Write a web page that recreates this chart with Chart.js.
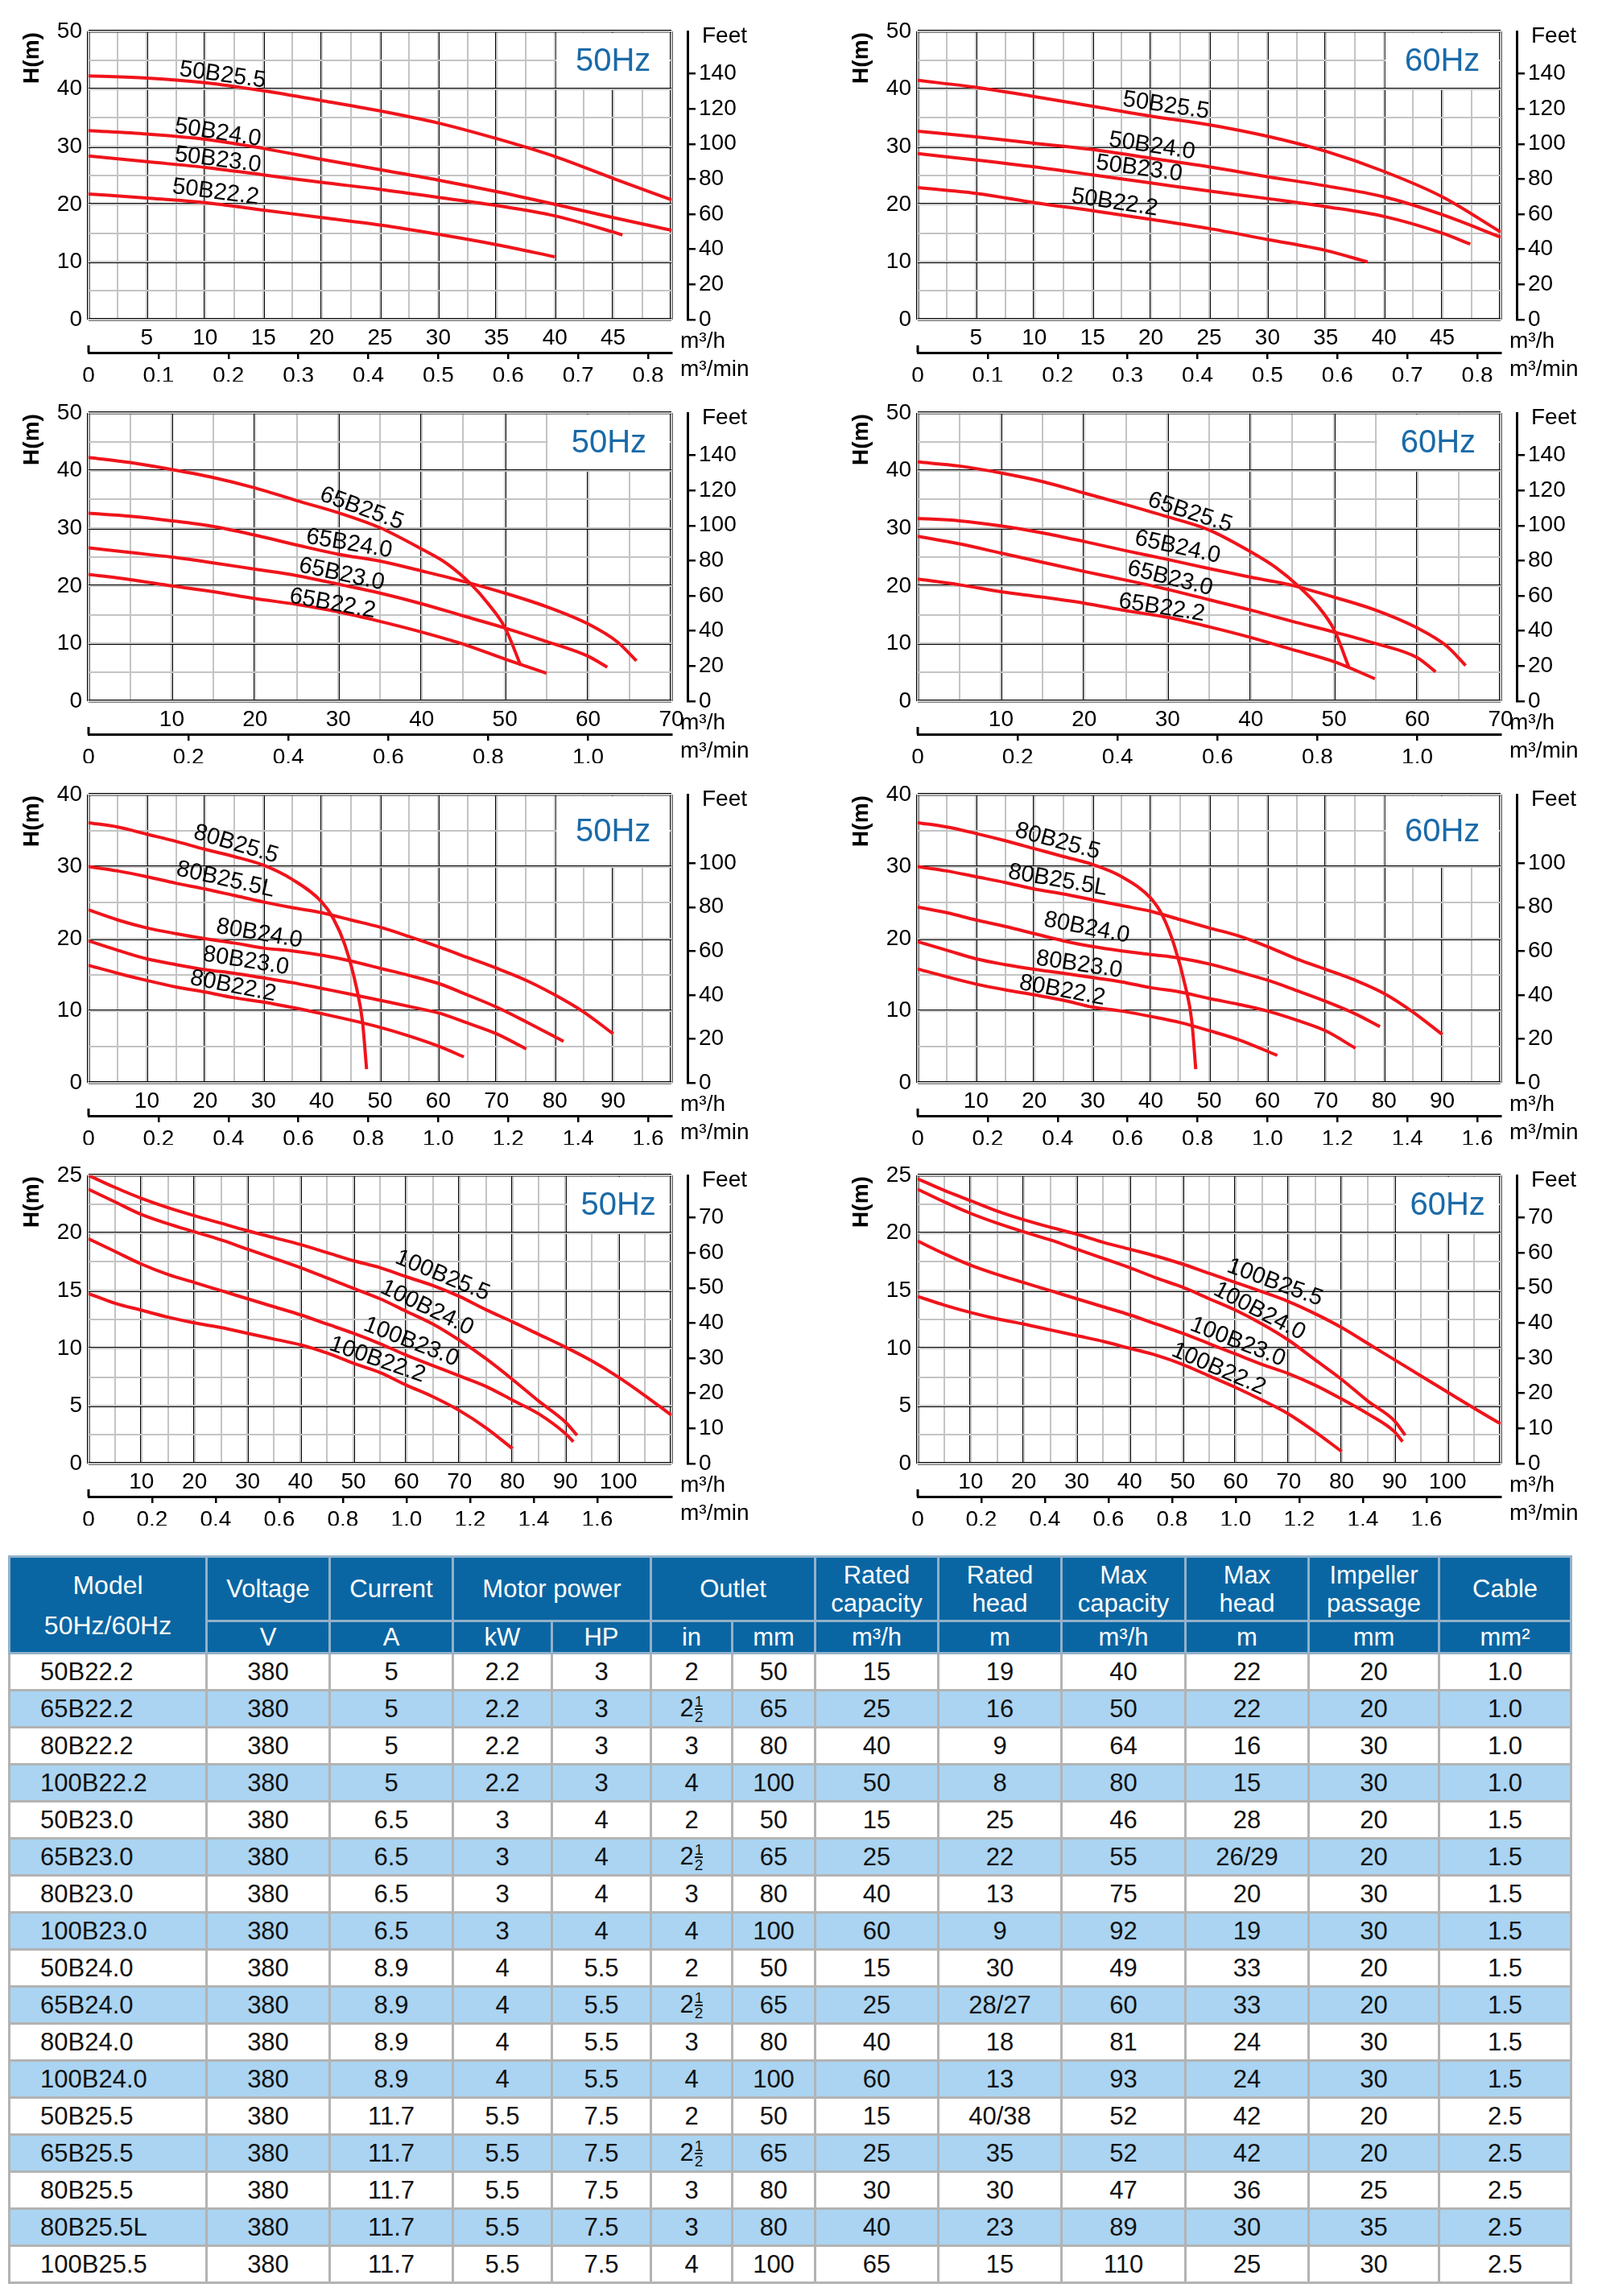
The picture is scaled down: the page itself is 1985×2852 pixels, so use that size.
<!DOCTYPE html>
<html>
<head>
<meta charset="utf-8">
<script src="https://cdn.jsdelivr.net/npm/chart.js@4.4.0/dist/chart.umd.min.js"></script>
<style>
  body { margin: 0; background: #fff; width: 1985px; height: 2852px; position: relative; overflow: hidden;
         font-family: 'Liberation Sans', Arial, sans-serif; }
  canvas { position: absolute; }
  #tbl { position: absolute; left: 10px; top: 1932px; width: 1940px; border-collapse: collapse; table-layout: fixed; }
  #tbl th, #tbl td { border: 3px solid #b3b3b3; text-align: center; padding: 0; font-weight: normal; white-space: nowrap; }
  #tbl thead th { background: #0a66a3; color: #fff; border-color: #93b1c9; font-size: 31px; line-height: 35px; }
  #tbl thead th.mdl { font-size: 32px; line-height: 50px; }
  #tbl tbody tr { height: 46px; }
  #tbl tbody td { font-size: 31px; color: #111; }
  #tbl tbody td.m { text-align: left; padding-left: 37px; }
  #tbl tbody tr:nth-child(even) td { background: #aad4f2; }
  .st { display: inline-block; vertical-align: middle; font-size: 19px; line-height: 17px; margin-left: 1px; }
  .st span { display: block; }
  .st span:first-child { border-bottom: 2px solid #111; }
</style>
</head>
<body>
<table id="tbl">
  <colgroup>
    <col style="width:245px"><col style="width:153px"><col style="width:153px"><col style="width:123px"><col style="width:123px">
    <col style="width:101px"><col style="width:103px"><col style="width:153px"><col style="width:153px"><col style="width:154px">
    <col style="width:153px"><col style="width:162px"><col style="width:164px">
  </colgroup>
  <thead>
    <tr style="height:80px">
      <th rowspan="2" class="mdl">Model<br>50Hz/60Hz</th><th>Voltage</th><th>Current</th><th colspan="2">Motor power</th>
      <th colspan="2">Outlet</th><th>Rated<br>capacity</th><th>Rated<br>head</th><th>Max<br>capacity</th><th>Max<br>head</th>
      <th>Impeller<br>passage</th><th>Cable</th>
    </tr>
    <tr style="height:40px">
      <th>V</th><th>A</th><th>kW</th><th>HP</th><th>in</th><th>mm</th><th>m³/h</th><th>m</th><th>m³/h</th><th>m</th><th>mm</th><th>mm²</th>
    </tr>
  </thead>
  <tbody id="rows"></tbody>
</table>
<script>
// ---- curves: [flow m³/h, head m] ----

// 50B, 50Hz
const a50B25_5 = [[0,42.3],[5,41.9],[10,41.1],[15,39.7],[20,38.0],[25,36.2],[30,34.1],[35,31.4],[40,28.3],[45,24.5],[50,20.8]];
const a50B24_0 = [[0,32.8],[5,32.2],[10,31.3],[15,29.7],[20,27.8],[25,26.0],[30,24.2],[35,22.2],[40,20.0],[45,17.7],[50,15.5]];
const a50B23_0 = [[0,28.4],[5,27.4],[10,26.4],[15,25.1],[20,23.8],[25,22.6],[30,21.2],[35,19.8],[40,18.0],[45,15.2],[45.8,14.7]];
const a50B22_2 = [[0,21.8],[5,21.1],[10,20.3],[15,19.0],[20,17.7],[25,16.4],[30,14.8],[35,13.0],[40,10.9]];

// 50B, 60Hz
const b50B25_5 = [[0,41.5],[5,40.3],[10,38.7],[15,37.0],[20,35.3],[25,33.8],[30,31.8],[35,29.2],[40,25.7],[45,21.3],[50,15.2]];
const b50B24_0 = [[0,32.7],[5,31.7],[10,30.6],[15,29.5],[20,28.0],[25,26.5],[30,24.8],[35,23.2],[40,21.3],[45,18.2],[50,14.3]];
const b50B23_0 = [[0,28.8],[5,27.7],[10,26.5],[15,25.1],[20,23.7],[25,22.3],[30,21.0],[35,19.6],[40,17.9],[45,15.0],[47.4,13.1]];
const b50B22_2 = [[0,22.9],[5,21.9],[10,20.3],[15,18.9],[20,17.4],[25,15.8],[30,13.9],[35,12.0],[38.6,10.0]];

// 65B, 50Hz
const a65B25_5 = [[0,42.3],[5,41.4],[10,40.2],[15,38.8],[20,37.0],[25,34.8],[30,32.7],[35,30.1],[40,26.4],[43,23.9],[46,20.2],[48,16.9],[50,12.8],[51.9,6.2]];
const a65B24_0 = [[0,32.6],[5,32.1],[10,31.3],[15,30.3],[20,28.8],[25,27.1],[30,25.5],[35,24.3],[40,22.6],[45,20.8],[50,18.75],[55,16.4],[60,13.4],[63.5,10.3],[65.8,7.0]];
const a65B23_0 = [[0,26.6],[5,25.8],[10,25.0],[15,24.0],[20,22.9],[25,21.8],[30,20.3],[35,18.75],[40,16.9],[45,14.8],[50,12.7],[55,10.35],[60,7.8],[62.3,5.9]];
const a65B22_2 = [[0,22.0],[5,21.1],[10,20.0],[15,19.0],[20,17.8],[25,16.8],[30,15.5],[35,13.85],[40,12.0],[45,9.9],[50,7.3],[55,4.85]];

// 65B, 60Hz
const b65B25_5 = [[0,41.5],[5,40.8],[10,39.6],[15,38.1],[20,36.1],[25,34.1],[30,32.0],[35,29.7],[40,25.9],[43,23.2],[46,19.6],[48,16.6],[50,12.4],[51.8,5.8]];
const b65B24_0 = [[0,31.7],[5,31.3],[10,30.4],[15,29.2],[20,27.7],[25,26.1],[30,24.6],[35,23.0],[40,21.5],[45,20.1],[50,18.05],[55,15.8],[60,12.7],[63.5,9.6],[65.8,6.2]];
const b65B23_0 = [[0,28.6],[5,27.3],[10,25.7],[15,24.1],[20,22.5],[25,21.0],[30,19.4],[35,17.6],[40,15.8],[45,13.85],[50,12.0],[55,10.0],[60,7.55],[62.2,5.1]];
const b65B22_2 = [[0,21.2],[5,20.2],[10,19.0],[15,18.05],[20,17.0],[25,15.7],[30,14.55],[35,12.9],[40,11.05],[45,8.95],[50,6.86],[54.9,3.9]];

// 80B, 50Hz
const a80B25_5 = [[0,36.1],[5,35.5],[10,34.5],[15,33.5],[20,32.4],[25,31.4],[30,30.2],[35,28.2],[40,25.1],[42,22.8],[44,19.1],[46,13.1],[47,8.5],[47.7,1.9]];
const a80B25_5L = [[0,30.0],[5,29.4],[10,28.6],[15,27.7],[20,26.9],[25,26.0],[30,25.1],[35,24.3],[40,23.6],[45,22.6],[50,21.6],[55,20.3],[60,18.9],[65,17.4],[70,15.9],[75,14.25],[80,12.2],[85,9.8],[90,6.8]];
const a80B24_0 = [[0,24.0],[5,22.6],[10,21.5],[15,20.7],[20,20.0],[25,19.4],[30,18.7],[35,18.3],[40,17.7],[45,16.9],[50,15.9],[55,14.9],[60,13.8],[65,12.2],[70,10.5],[75,8.5],[81.5,5.75]];
const a80B23_0 = [[0,19.7],[5,18.4],[10,17.2],[15,16.4],[20,15.7],[25,15.2],[30,14.55],[35,13.9],[40,13.1],[45,12.3],[50,11.45],[55,10.6],[60,9.7],[65,8.3],[70,6.8],[75.1,4.7]];
const a80B22_2 = [[0,16.3],[5,15.2],[10,14.2],[15,13.3],[20,12.6],[25,11.8],[30,11.2],[35,10.45],[40,9.6],[45,8.7],[50,7.7],[55,6.5],[60,5.1],[64.4,3.6]];

// 80B, 60Hz
const b80B25_5 = [[0,36.1],[5,35.5],[10,34.6],[15,33.6],[20,32.5],[25,31.4],[30,30.3],[35,28.6],[40,25.6],[42,23.2],[44,19.1],[46,13.1],[47,8.7],[47.7,1.9]];
const b80B25_5L = [[0,30.0],[5,29.4],[10,28.6],[15,27.8],[20,26.9],[25,26.2],[30,25.4],[35,24.6],[40,23.8],[45,22.65],[50,21.5],[55,20.4],[60,18.9],[65,17.2],[70,15.75],[75,14.25],[80,12.4],[85,9.8],[90,6.7]];
const b80B24_0 = [[0,24.4],[5,23.6],[10,22.6],[15,21.7],[20,20.7],[25,19.7],[30,18.9],[35,18.3],[40,17.8],[45,17.3],[50,16.5],[55,15.4],[60,14.25],[65,12.8],[70,11.3],[75,9.6],[79.3,7.8]];
const b80B23_0 = [[0,19.6],[5,18.4],[10,17.2],[15,16.4],[20,15.75],[25,15.2],[30,14.6],[35,14.0],[40,13.2],[45,12.6],[50,11.7],[55,10.9],[60,9.96],[65,8.7],[70,7.2],[75.1,4.8]];
const b80B22_2 = [[0,15.8],[5,14.7],[10,13.7],[15,12.9],[20,12.2],[25,11.45],[30,10.5],[35,9.96],[40,9.2],[45,8.36],[50,7.24],[55,6.0],[61.7,3.8]];

// 100B, 50Hz
const a100B25_5 = [[0,25.0],[5,23.95],[10,23.0],[15,22.2],[20,21.5],[25,20.85],[30,20.2],[35,19.6],[40,19.0],[45,18.3],[50,17.6],[55,17.0],[60,16.2],[65,15.45],[70,14.5],[75,13.35],[80,12.3],[85,11.2],[90,10.1],[95,8.9],[100,7.5],[105,5.9],[110,4.2]];
const a100B24_0 = [[0,23.8],[5,22.7],[10,21.6],[15,20.8],[20,20.1],[25,19.4],[30,18.6],[35,17.8],[40,17.0],[45,16.1],[50,15.2],[55,14.3],[60,13.2],[65,12.1],[70,10.7],[75,9.1],[80,7.3],[85,5.4],[90,3.6],[92.2,2.45]];
const a100B23_0 = [[0,19.5],[5,18.4],[10,17.3],[15,16.4],[20,15.7],[25,15.0],[30,14.3],[35,13.6],[40,12.9],[45,12.1],[50,11.3],[55,10.4],[60,9.4],[65,8.5],[70,7.6],[75,6.7],[80,5.5],[85,4.3],[90,2.6],[91.5,1.9]];
const a100B22_2 = [[0,14.75],[5,13.9],[10,13.3],[15,12.7],[20,12.2],[25,11.8],[30,11.3],[35,10.8],[40,10.3],[45,9.6],[50,8.7],[55,7.9],[60,6.8],[65,5.8],[70,4.6],[75,3.1],[80,1.3]];

// 100B, 60Hz
const b100B25_5 = [[0,24.7],[5,23.7],[10,22.8],[15,21.9],[20,21.15],[25,20.5],[30,19.9],[35,19.2],[40,18.6],[45,18.0],[50,17.3],[55,16.5],[60,15.7],[65,14.9],[70,14.05],[75,13.0],[80,11.8],[85,10.4],[90,9.0],[95,7.6],[100,6.2],[105,4.8],[110,3.45]];
const b100B24_0 = [[0,23.8],[5,22.7],[10,21.7],[15,20.85],[20,20.1],[25,19.4],[30,18.6],[35,17.8],[40,17.0],[45,16.1],[50,15.3],[55,14.3],[60,13.3],[65,12.1],[70,10.7],[75,9.0],[80,7.3],[85,5.4],[90,3.7],[92,2.45]];
const b100B23_0 = [[0,19.3],[5,18.2],[10,17.2],[15,16.4],[20,15.7],[25,15.0],[30,14.3],[35,13.6],[40,12.9],[45,12.1],[50,11.3],[55,10.4],[60,9.5],[65,8.6],[70,7.8],[75,6.8],[80,5.6],[85,4.3],[90,2.75],[91.5,1.9]];
const b100B22_2 = [[0,14.5],[5,13.75],[10,13.1],[15,12.55],[20,12.1],[25,11.6],[30,11.1],[35,10.6],[40,10.0],[45,9.4],[50,8.6],[55,7.6],[60,6.6],[65,5.5],[70,4.3],[75,2.75],[80,1.05]];

// ---- curve names ----
const names50 = ['50B25.5', '50B24.0', '50B23.0', '50B22.2'];
const names65 = ['65B25.5', '65B24.0', '65B23.0', '65B22.2'];
const names80 = ['80B25.5', '80B25.5L', '80B24.0', '80B23.0', '80B22.2'];
const names100 = ['100B25.5', '100B24.0', '100B23.0', '100B22.2'];

// where each name sits (flow, head)
const spotsA50 = [[11.5,42.4],[11.1,32.4],[11.1,27.7],[10.9,22.1]];
const spotsB50 = [[21.3,37.1],[20.1,30.1],[19.0,26.2],[16.9,20.3]];
const spotsA65 = [[32.8,33.4],[31.3,27.3],[30.4,22.0],[29.3,16.9]];
const spotsB65 = [[32.7,32.7],[31.2,26.7],[30.3,21.3],[29.3,16.2]];
const spotsA80 = [[25.3,33.1],[23.5,28.2],[29.3,20.7],[27.0,16.9],[24.8,13.4]];
const spotsB80 = [[24.0,33.5],[24.0,28.1],[29.0,21.5],[27.7,16.4],[24.8,12.8]];
const spotsA100 = [[66.8,16.3],[63.9,13.5],[60.9,10.55],[54.5,9.0]];
const spotsB100 = [[67.4,15.7],[64.5,13.2],[60.4,10.55],[56.8,8.2]];

// ---- tick labels ----
const flowLabels50 = [5, 10, 15, 20, 25, 30, 35, 40, 45];
const flowLabels65 = [10, 20, 30, 40, 50, 60, 70];
const flowLabels80 = [10, 20, 30, 40, 50, 60, 70, 80, 90];
const flowLabels100 = [10, 20, 30, 40, 50, 60, 70, 80, 90, 100];
const minTicks50 = [0, 0.1, 0.2, 0.3, 0.4, 0.5, 0.6, 0.7, 0.8];
const minTicks65 = [0, 0.2, 0.4, 0.6, 0.8, 1.0];
const minTicks80 = [0, 0.2, 0.4, 0.6, 0.8, 1.0, 1.2, 1.4, 1.6];
const minTicks100 = [0, 0.2, 0.4, 0.6, 0.8, 1.0, 1.2, 1.4, 1.6];
const feetTicks50 = [0, 20, 40, 60, 80, 100, 120, 140];
const feetTicks80 = [0, 20, 40, 60, 80, 100];
const feetTicks100 = [0, 10, 20, 30, 40, 50, 60, 70];

// ---- table columns ----
const models = ['50B22.2','65B22.2','80B22.2','100B22.2','50B23.0','65B23.0','80B23.0','100B23.0','50B24.0','65B24.0','80B24.0','100B24.0','50B25.5','65B25.5','80B25.5','80B25.5L','100B25.5'];
const voltage = [380,380,380,380,380,380,380,380,380,380,380,380,380,380,380,380,380];
const current = ['5','5','5','5','6.5','6.5','6.5','6.5','8.9','8.9','8.9','8.9','11.7','11.7','11.7','11.7','11.7'];
const powerKw = ['2.2','2.2','2.2','2.2','3','3','3','3','4','4','4','4','5.5','5.5','5.5','5.5','5.5'];
const powerHp = ['3','3','3','3','4','4','4','4','5.5','5.5','5.5','5.5','7.5','7.5','7.5','7.5','7.5'];
const outletIn = ['2','2 1/2','3','4','2','2 1/2','3','4','2','2 1/2','3','4','2','2 1/2','3','3','4'];
const outletMm = [50,65,80,100,50,65,80,100,50,65,80,100,50,65,80,80,100];
const ratedCap = [15,25,40,50,15,25,40,60,15,25,40,60,15,25,30,40,65];
const ratedHead = ['19','16','9','8','25','22','13','9','30','28/27','18','13','40/38','35','30','23','15'];
const maxCap = [40,50,64,80,46,55,75,92,49,60,81,93,52,52,47,89,110];
const maxHead = ['22','22','16','15','28','26/29','20','19','33','33','24','24','42','42','36','30','25'];
const impeller = [20,20,30,30,20,20,30,30,20,20,30,30,20,20,25,35,30];
const cable = ['1.0','1.0','1.0','1.0','1.5','1.5','1.5','1.5','1.5','1.5','1.5','1.5','2.5','2.5','2.5','2.5','2.5'];

// fill table
const tbody = document.getElementById('rows');
function inch(v) {
  if (v.indexOf(' ') < 0) return v;
  const p = v.split(' '), f = p[1].split('/');
  return p[0] + '<span class="st"><span>' + f[0] + '</span><span>' + f[1] + '</span></span>';
}
models.forEach((m, i) => {
  const tr = document.createElement('tr');
  tr.innerHTML = '<td class="m">' + m + '</td><td>' + voltage[i] + '</td><td>' + current[i] + '</td><td>' + powerKw[i] +
    '</td><td>' + powerHp[i] + '</td><td>' + inch(outletIn[i]) + '</td><td>' + outletMm[i] + '</td><td>' + ratedCap[i] +
    '</td><td>' + ratedHead[i] + '</td><td>' + maxCap[i] + '</td><td>' + maxHead[i] + '</td><td>' + impeller[i] +
    '</td><td>' + cable[i] + '</td>';
  tbody.appendChild(tr);
});

// ---- charts ----
const RED = '#f0141b';
const FONT = "'Liberation Sans', Arial, sans-serif";
Chart.defaults.font.family = FONT;
Chart.defaults.font.size = 28;
Chart.defaults.color = '#000';

const decor = {
  id: 'decor',
  beforeDatasetsDraw(chart, args, o) {
    const { ctx, chartArea: a, scales: { x, y } } = chart;
    const bx = x.getPixelForValue(o.box[0]), by = y.getPixelForValue(o.box[1]);
    ctx.save();
    ctx.fillStyle = '#fff';
    ctx.fillRect(bx + 1.6, a.top + 1.9, a.right - bx - 3.5, by - a.top - 3.5);
    ctx.fillStyle = '#1a6aa8';
    ctx.font = '40px ' + FONT;
    ctx.textAlign = 'center';
    ctx.textBaseline = 'middle';
    ctx.fillText(o.hz, (bx + a.right) / 2, (a.top + by) / 2 + 2);
    ctx.restore();
  },
  afterDatasetsDraw(chart, args, o) {
    const { ctx, scales: { x, y } } = chart;
    ctx.save();
    ctx.font = '29px ' + FONT;
    ctx.fillStyle = '#000';
    ctx.textAlign = 'center';
    ctx.textBaseline = 'middle';
    o.names.forEach((name, i) => {
      const pts = chart.data.datasets[i].data;
      const q = o.spots[i][0];
      let k = 0;
      while (k < pts.length - 2 && pts[k + 1].x < q) k++;
      const ang = Math.atan2(y.getPixelForValue(pts[k + 1].y) - y.getPixelForValue(pts[k].y),
                             x.getPixelForValue(pts[k + 1].x) - x.getPixelForValue(pts[k].x));
      ctx.save();
      ctx.translate(x.getPixelForValue(q), y.getPixelForValue(o.spots[i][1]));
      ctx.rotate(ang);
      ctx.fillText(name, 0, 0);
      ctx.restore();
    });
    ctx.restore();
  },
  afterDraw(chart) {
    const { ctx, chartArea: a, scales } = chart;
    ctx.save();
    ctx.fillStyle = '#000';
    ctx.font = 'bold 28px ' + FONT;
    ctx.translate(40, a.top + 33);
    ctx.rotate(-Math.PI / 2);
    ctx.textAlign = 'center';
    ctx.textBaseline = 'middle';
    ctx.fillText('H(m)', 0, 0);
    ctx.restore();
    ctx.save();
    ctx.font = '28px ' + FONT;
    ctx.fillStyle = '#000';
    ctx.textAlign = 'left';
    ctx.textBaseline = 'alphabetic';
    ctx.fillText('Feet', scales.feet.left + 18, a.top + 14);
    ctx.fillText('m³/h', a.right + 11, a.bottom + 35);
    ctx.fillText('m³/min', a.right + 11, a.bottom + 70);
    ctx.strokeStyle = '#000';
    ctx.lineWidth = 3;
    ctx.beginPath();
    ctx.moveTo(a.left, scales.x2.top);
    ctx.lineTo(a.left, scales.x2.top - 9);
    ctx.stroke();
    ctx.restore();
  }
};

const charts = [
  { left: 0,    top: 0,    hz: '50Hz', curves: [a50B25_5, a50B24_0, a50B23_0, a50B22_2], names: names50, spots: spotsA50,
    xMax: 50, xMajor: 5, xMinor: 2.5, yMax: 50, yMajor: 10, yMinor: 5, flow: flowLabels50, mins: minTicks50, feet: feetTicks50, box: [40, 40] },
  { left: 1030, top: 0,    hz: '60Hz', curves: [b50B25_5, b50B24_0, b50B23_0, b50B22_2], names: names50, spots: spotsB50,
    xMax: 50, xMajor: 5, xMinor: 2.5, yMax: 50, yMajor: 10, yMinor: 5, flow: flowLabels50, mins: minTicks50, feet: feetTicks50, box: [40, 40] },
  { left: 0,    top: 474,  hz: '50Hz', curves: [a65B25_5, a65B24_0, a65B23_0, a65B22_2], names: names65, spots: spotsA65,
    xMax: 70, xMajor: 10, xMinor: 5, yMax: 50, yMajor: 10, yMinor: 5, flow: flowLabels65, mins: minTicks65, feet: feetTicks50, box: [55, 40] },
  { left: 1030, top: 474,  hz: '60Hz', curves: [b65B25_5, b65B24_0, b65B23_0, b65B22_2], names: names65, spots: spotsB65,
    xMax: 70, xMajor: 10, xMinor: 5, yMax: 50, yMajor: 10, yMinor: 5, flow: flowLabels65, mins: minTicks65, feet: feetTicks50, box: [55, 40] },
  { left: 0,    top: 948,  hz: '50Hz', curves: [a80B25_5, a80B25_5L, a80B24_0, a80B23_0, a80B22_2], names: names80, spots: spotsA80,
    xMax: 100, xMajor: 10, xMinor: 5, yMax: 40, yMajor: 10, yMinor: 5, flow: flowLabels80, mins: minTicks80, feet: feetTicks80, box: [80, 30] },
  { left: 1030, top: 948,  hz: '60Hz', curves: [b80B25_5, b80B25_5L, b80B24_0, b80B23_0, b80B22_2], names: names80, spots: spotsB80,
    xMax: 100, xMajor: 10, xMinor: 5, yMax: 40, yMajor: 10, yMinor: 5, flow: flowLabels80, mins: minTicks80, feet: feetTicks80, box: [80, 30] },
  { left: 0,    top: 1421, hz: '50Hz', curves: [a100B25_5, a100B24_0, a100B23_0, a100B22_2], names: names100, spots: spotsA100,
    xMax: 110, xMajor: 10, xMinor: 5, yMax: 25, yMajor: 5, yMinor: 2.5, flow: flowLabels100, mins: minTicks100, feet: feetTicks100, box: [90, 20] },
  { left: 1030, top: 1421, hz: '60Hz', curves: [b100B25_5, b100B24_0, b100B23_0, b100B22_2], names: names100, spots: spotsB100,
    xMax: 110, xMajor: 10, xMinor: 5, yMax: 25, yMajor: 5, yMinor: 2.5, flow: flowLabels100, mins: minTicks100, feet: feetTicks100, box: [90, 20] }
];

const has = (list, v) => list.some(t => Math.abs(t - v) < 1e-6);
const edgeW = (max) => (ctx) => (ctx.tick && (ctx.tick.value === 0 || Math.abs(ctx.tick.value - max) < 1e-6)) ? 3.6 : 3;

charts.forEach(c => {
  const cv = document.createElement('canvas');
  cv.width = 955;
  cv.height = 474;
  cv.style.left = c.left + 'px';
  cv.style.top = c.top + 'px';
  document.body.appendChild(cv);

  new Chart(cv, {
    type: 'line',
    data: {
      datasets: c.curves.map(pts => ({
        data: pts.map(p => ({ x: p[0], y: p[1] })),
        borderColor: RED,
        borderWidth: 4,
        pointRadius: 0,
        fill: false,
        cubicInterpolationMode: 'monotone'
      }))
    },
    options: {
      responsive: false,
      animation: false,
      devicePixelRatio: 1,
      layout: { padding: { top: 39, left: 0, right: 0, bottom: 0 } },
      plugins: {
        legend: { display: false },
        tooltip: { enabled: false },
        decor: { hz: c.hz, box: c.box, names: c.names, spots: c.spots }
      },
      scales: {
        x: {
          type: 'linear', position: 'bottom', min: 0, max: c.xMax,
          grid: { color: '#000', lineWidth: edgeW(c.xMax), drawTicks: false },
          border: { display: false },
          ticks: { stepSize: c.xMajor, autoSkip: false, maxRotation: 0, padding: 6,
                   callback: v => has(c.flow, v) ? String(v) : '' },
          afterFit: s => { s.height = 41; }
        },
        xm: {
          type: 'linear', position: 'bottom', min: 0, max: c.xMax,
          grid: { color: '#c4c4c4', lineWidth: 2, drawTicks: false, z: -1 },
          border: { display: false },
          ticks: { display: false, stepSize: c.xMinor },
          afterFit: s => { s.height = 0; }
        },
        x2: {
          type: 'linear', position: 'bottom', min: 0, max: c.xMax / 60,
          grid: { drawOnChartArea: false, drawTicks: true, tickLength: 8, lineWidth: 2.5,
                  color: ctx => (ctx.tick && ctx.tick.value === 0) ? 'rgba(0,0,0,0)' : '#000' },
          border: { display: true, color: '#000', width: 3 },
          ticks: { padding: 4, autoSkip: false, maxRotation: 0,
                   callback: v => v === 0 ? '0' : v.toFixed(1) },
          afterBuildTicks: s => { s.ticks = c.mins.map(v => ({ value: v })); },
          afterFit: s => { s.height = 36; }
        },
        y: {
          type: 'linear', position: 'left', min: 0, max: c.yMax,
          grid: { color: '#000', lineWidth: edgeW(c.yMax), drawTicks: false },
          border: { display: false },
          ticks: { stepSize: c.yMajor, autoSkip: false, padding: 8 },
          afterFit: s => { s.width = 110; }
        },
        ym: {
          type: 'linear', position: 'left', min: 0, max: c.yMax,
          grid: { color: '#c4c4c4', lineWidth: 2, drawTicks: false, z: -1 },
          border: { display: false },
          ticks: { display: false, stepSize: c.yMinor },
          afterFit: s => { s.width = 0; }
        },
        gap: {
          type: 'linear', position: 'right', min: 0, max: 1,
          grid: { display: false }, border: { display: false }, ticks: { display: false },
          afterFit: s => { s.width = 20; }
        },
        feet: {
          type: 'linear', position: 'right', min: 0, max: c.yMax * 3.28084,
          grid: { drawOnChartArea: false, drawTicks: true, tickLength: 10, color: '#000', lineWidth: 2.5 },
          border: { display: true, color: '#000', width: 3 },
          ticks: { padding: 4, autoSkip: false, callback: v => String(v) },
          afterBuildTicks: s => { s.ticks = c.feet.map(v => ({ value: v })); },
          afterFit: s => { s.width = 101; }
        }
      }
    },
    plugins: [decor]
  });
});
</script>
</body>
</html>
